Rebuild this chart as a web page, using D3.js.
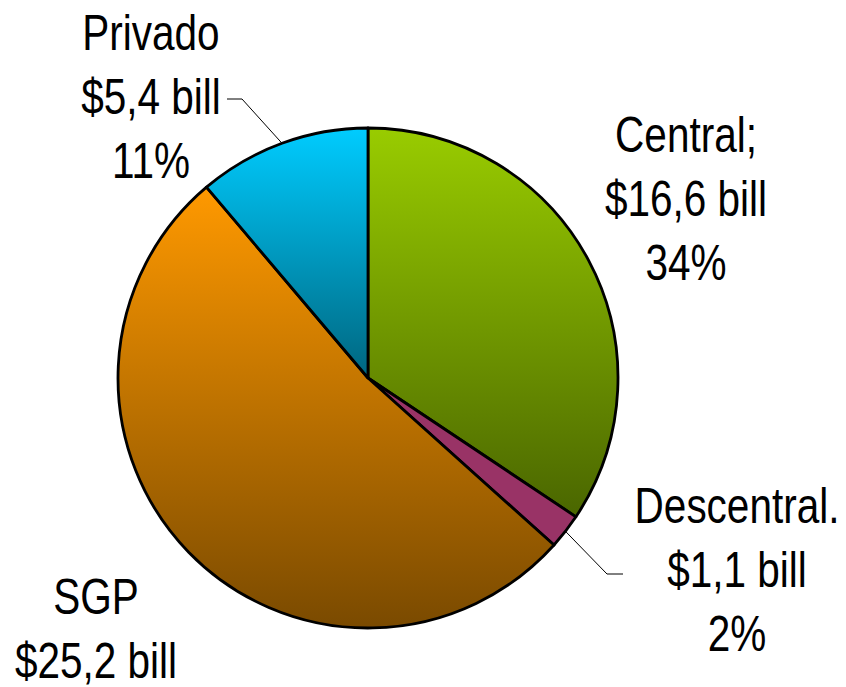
<!DOCTYPE html>
<html lang="es">
<head>
  <meta charset="UTF-8">
  <title>Distribución de recursos</title>
  <script src="https://d3js.org/d3.v7.min.js"></script>
  <style>
    body { margin: 0; background: #fff; }
    svg { display: block; }
    .lbl {
      font-family: "Liberation Sans", Arial, sans-serif;
      font-size: 50px;
      fill: #000;
      text-anchor: middle;
    }
  </style>
</head>
<body>
  <svg id="chart" width="846" height="687"></svg>
  <script>
    // Datos
    const categories = ['Central', 'Descentral', 'SGP', 'Privado'];
    const values = [16.6, 1.1, 25.2, 5.4];
    const labelLines = [
      ['Central;', '$16,6 bill', '34%'],
      ['Descentral.', '$1,1 bill', '2%'],
      ['SGP', '$25,2 bill'],
      ['Privado', '$5,4 bill', '11%']
    ];
    const topColors = ['#99cc00', '#993366', '#ff9900', '#00ccff'];
    const bottomColors = ['#4a6600', '#993366', '#7a4a00', '#00667f'];

    const svg = d3.select('#chart');
    const cx = 368, cy = 378, radius = 250;
    const narrow = 0.81; // simula Arial Narrow

    const defs = svg.append('defs');
    categories.forEach((c, i) => {
      const g = defs.append('linearGradient')
        .attr('id', 'grad' + i)
        .attr('x1', 0).attr('y1', 0).attr('x2', 0).attr('y2', 1);
      g.append('stop').attr('offset', '0%').attr('stop-color', topColors[i]);
      g.append('stop').attr('offset', '100%').attr('stop-color', bottomColors[i]);
    });

    const pie = d3.pie().sort(null).value(d => d)(values);
    const arc = d3.arc().innerRadius(0).outerRadius(radius);

    const g = svg.append('g').attr('transform', `translate(${cx},${cy})`);
    g.selectAll('path')
      .data(pie)
      .join('path')
      .attr('d', arc)
      .attr('fill', (d, i) => `url(#grad${i})`)
      .attr('stroke', '#000')
      .attr('stroke-width', 2.8)
      .attr('stroke-linejoin', 'round');

    // Posiciones de etiquetas (centro de la primera línea base)
    const labelPos = [
      { x: 686, y: 152 },
      { x: 737, y: 523 },
      { x: 96, y: 614 },
      { x: 151, y: 50 }
    ];
    const lineGap = 64;

    labelLines.forEach((lines, i) => {
      const t = svg.append('text').attr('class', 'lbl')
        .attr('transform', `translate(${labelPos[i].x},${labelPos[i].y}) scale(${narrow},1)`);
      lines.forEach((s, k) => {
        t.append('tspan')
          .attr('x', 0)
          .attr('y', k * lineGap)
          .text(s);
      });
    });

    // Líneas guía
    function edgePoint(d) {
      const a = (d.startAngle + d.endAngle) / 2;
      return [cx + Math.sin(a) * radius, cy - Math.cos(a) * radius];
    }
    const leaders = [
      { idx: 3, pts: [[227, 99], [242, 99]] },
      { idx: 1, pts: [[607, 574], [623, 574]] }
    ];
    const line = d3.line();
    leaders.forEach(l => {
      const e = edgePoint(pie[l.idx]);
      const pts = l.idx === 3 ? [l.pts[0], l.pts[1], e] : [e, l.pts[0], l.pts[1]];
      svg.append('path')
        .attr('d', line(pts))
        .attr('fill', 'none')
        .attr('stroke', '#000')
        .attr('stroke-width', 1);
    });
  </script>
</body>
</html>
